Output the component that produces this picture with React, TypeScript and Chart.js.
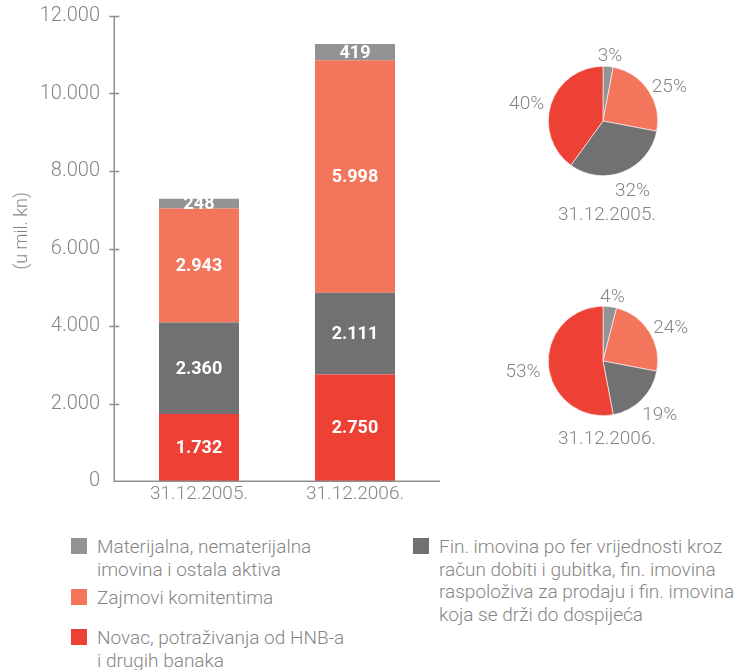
import React, { useEffect, useRef } from "react";
import { Chart, registerables } from "chart.js";

Chart.register(...registerables);

// ---------- data ----------
const categories = ["31.12.2005.", "31.12.2006."];
const yTicks = [0, 2000, 4000, 6000, 8000, 10000, 12000];
const yTitle = "(u mil. kn)";

const novac = [1732, 2750];
const finImovina = [2360, 2111];
const zajmovi = [2943, 5998];
const materijalna = [248, 419];

// pie shares as printed (clockwise from top: materijalna, zajmovi, fin. imovina, novac)
const pie2005 = [3, 25, 32, 40];
const pie2006 = [4, 24, 19, 53];

const legendMaterijalna = ["Materijalna, nematerijalna", "imovina i ostala aktiva"];
const legendZajmovi = ["Zajmovi komitentima"];
const legendNovac = ["Novac, potraživanja od HNB-a", "i drugih banaka"];
const legendFin = [
  "Fin. imovina po fer vrijednosti kroz",
  "račun dobiti i gubitka, fin. imovina",
  "raspoloživa za prodaju i fin. imovina",
  "koja se drži do dospijeća",
];

// ---------- style ----------
const LIGHT = "#939396";
const SALMON = "#F2755C";
const DARK = "#717073";
const RED = "#EE4136";
const TEXT = "#858585";
const AXIS = "#8f8f8f";
const FONT = "Roboto, 'Liberation Sans', sans-serif";
const AXIS_GAP = 7; // axis lines extend this far beyond the category band

const fmt = (v: number) => String(v).replace(/\B(?=(\d{3})+(?!\d))/g, ".");

function BarChart() {
  const ref = useRef<HTMLCanvasElement | null>(null);
  useEffect(() => {
    if (!ref.current) return;
    const labelsPlugin = {
      id: "barExtras",
      afterDatasetsDraw(chart: any) {
        const ctx = chart.ctx;
        ctx.save();
        ctx.fillStyle = "#ffffff";
        ctx.font = `bold 18px ${FONT}`;
        ctx.textAlign = "center";
        ctx.textBaseline = "middle";
        chart.data.datasets.forEach((ds: any, i: number) => {
          const meta = chart.getDatasetMeta(i);
          meta.data.forEach((bar: any, j: number) => {
            const p = bar.getProps(["x", "y", "base"], true);
            ctx.fillText(fmt(ds.data[j]), p.x, (p.y + p.base) / 2 + 1);
          });
        });
        ctx.restore();
      },
      afterDraw(chart: any) {
        const ctx = chart.ctx;
        const ys = chart.scales.y;
        const area = chart.chartArea;
        const ax = Math.round(area.left - AXIS_GAP) + 0.25;
        const ay = Math.round(area.bottom) + 0.25;
        ctx.save();
        ctx.strokeStyle = AXIS;
        ctx.lineWidth = 1.5;
        // axis lines
        ctx.beginPath();
        ctx.moveTo(ax, area.top);
        ctx.lineTo(ax, ay);
        ctx.lineTo(area.right + AXIS_GAP, ay);
        ctx.stroke();
        // ticks crossing the y axis
        ys.ticks.forEach((t: any) => {
          if (t.value === 0) return;
          const py = Math.round(ys.getPixelForValue(t.value)) + 0.5;
          ctx.beginPath();
          ctx.moveTo(ax - 5, py);
          ctx.lineTo(ax + 5, py);
          ctx.stroke();
        });
        // y title
        ctx.fillStyle = TEXT;
        ctx.font = `300 18px ${FONT}`;
        ctx.textAlign = "center";
        ctx.textBaseline = "middle";
        ctx.translate(22, area.top + area.height * 0.462);
        ctx.rotate(-Math.PI / 2);
        ctx.fillText(yTitle, 0, 0);
        ctx.restore();
      },
    };
    const chart = new Chart(ref.current, {
      type: "bar",
      data: {
        labels: categories,
        datasets: [
          { label: legendNovac.join(" "), data: novac, backgroundColor: RED },
          { label: legendFin.join(" "), data: finImovina, backgroundColor: DARK },
          { label: legendZajmovi.join(" "), data: zajmovi, backgroundColor: SALMON },
          { label: legendMaterijalna.join(" "), data: materijalna, backgroundColor: LIGHT },
        ],
      },
      options: {
        animation: false,
        responsive: false,
        maintainAspectRatio: false,
        layout: { padding: { top: 16, left: 0, right: AXIS_GAP, bottom: 0 } },
        datasets: { bar: { barPercentage: 0.513, categoryPercentage: 1 } },
        plugins: { legend: { display: false }, tooltip: { enabled: false } },
        scales: {
          x: {
            stacked: true,
            grid: { display: false, drawTicks: false },
            border: { display: false },
            ticks: { color: TEXT, font: { family: FONT, size: 19, weight: "300" }, padding: 2 },
            afterFit: (s: any) => {
              s.height = 29;
              s.paddingLeft = 0;
              s.paddingRight = 0;
            },
          },
          y: {
            stacked: true,
            min: 0,
            max: 12000,
            afterBuildTicks: (s: any) => {
              s.ticks = yTicks.map((v) => ({ value: v }));
            },
            grid: { display: false, drawTicks: false },
            border: { display: false },
            ticks: {
              color: TEXT,
              font: { family: FONT, size: 20, weight: "300" },
              padding: 14 + AXIS_GAP,
              callback: (v: any) => fmt(Number(v)),
            },
            afterFit: (s: any) => {
              s.width = 114 + AXIS_GAP;
              s.paddingTop = 0;
              s.paddingBottom = 0;
            },
          },
        },
      } as any,
      plugins: [labelsPlugin],
    });
    return () => chart.destroy();
  }, []);
  return (
    <canvas
      ref={ref}
      width={440}
      height={510}
      style={{ position: "absolute", left: 0, top: 0, width: 440, height: 510 }}
    />
  );
}

function PieChart({ values, date, top, dateGap }: { values: number[]; date: string; top: number; dateGap: number }) {
  const ref = useRef<HTMLCanvasElement | null>(null);
  useEffect(() => {
    if (!ref.current) return;
    const piePlugin = {
      id: "pieLabels",
      afterDraw(chart: any) {
        const ctx = chart.ctx;
        const meta = chart.getDatasetMeta(0);
        ctx.save();
        ctx.fillStyle = TEXT;
        ctx.font = `300 19px ${FONT}`;
        ctx.textAlign = "center";
        ctx.textBaseline = "middle";
        let cx = 0,
          cy = 0,
          r = 0;
        meta.data.forEach((arc: any, i: number) => {
          const p = arc.getProps(["x", "y", "startAngle", "endAngle", "outerRadius"], true);
          cx = p.x;
          cy = p.y;
          r = p.outerRadius;
          const mid = (p.startAngle + p.endAngle) / 2;
          const txt = values[i] + "%";
          const w = ctx.measureText(txt).width;
          const dx = Math.cos(mid);
          const dy = Math.sin(mid);
          const d = r + 8;
          ctx.fillText(txt, p.x + dx * (d + w / 2), p.y + dy * (d + 7) + 5);
        });
        ctx.fillText(date, cx + 4, cy + r + dateGap);
        ctx.restore();
      },
    };
    const chart = new Chart(ref.current, {
      type: "pie",
      data: {
        labels: [legendMaterijalna.join(" "), legendZajmovi.join(" "), legendFin.join(" "), legendNovac.join(" ")],
        datasets: [
          {
            data: values,
            backgroundColor: [LIGHT, SALMON, DARK, RED],
            borderColor: "#ffffff",
            borderWidth: 0.6,
          },
        ],
      },
      options: {
        animation: false,
        responsive: false,
        maintainAspectRatio: false,
        layout: { padding: { left: 58, top: 36, right: 58, bottom: 54 } },
        plugins: { legend: { display: false }, tooltip: { enabled: false } },
      } as any,
      plugins: [piePlugin],
    });
    return () => chart.destroy();
  }, []);
  return (
    <canvas
      ref={ref}
      width={226}
      height={200}
      style={{ position: "absolute", left: 490, top, width: 226, height: 200 }}
    />
  );
}

function LegendItem({ color, lines, left, top }: { color: string; lines: string[]; left: number; top: number }) {
  return (
    <div style={{ position: "absolute", left, top }}>
      <div style={{ position: "absolute", left: 0, top: 1.5, width: 16, height: 16, background: color }} />
      <div
        style={{
          position: "absolute",
          left: 26,
          top: 0,
          whiteSpace: "nowrap",
          fontFamily: FONT,
          fontWeight: 300,
          fontSize: 19,
          lineHeight: "22.5px",
          color: TEXT,
        }}
      >
        {lines.map((l, i) => (
          <div key={i}>{l}</div>
        ))}
      </div>
    </div>
  );
}

export default function App() {
  return (
    <div style={{ position: "absolute", left: 0, top: 0, width: 742, height: 670, background: "#fff", overflow: "hidden" }}>
      <BarChart />
      <PieChart values={pie2005} date={categories[0]} top={30} dateGap={40} />
      <PieChart values={pie2006} date={categories[1]} top={270} dateGap={24} />
      <LegendItem color={LIGHT} lines={legendMaterijalna} left={71} top={536} />
      <LegendItem color={SALMON} lines={legendZajmovi} left={71} top={587} />
      <LegendItem color={RED} lines={legendNovac} left={71} top={627} />
      <LegendItem color={DARK} lines={legendFin} left={413} top={536} />
    </div>
  );
}
